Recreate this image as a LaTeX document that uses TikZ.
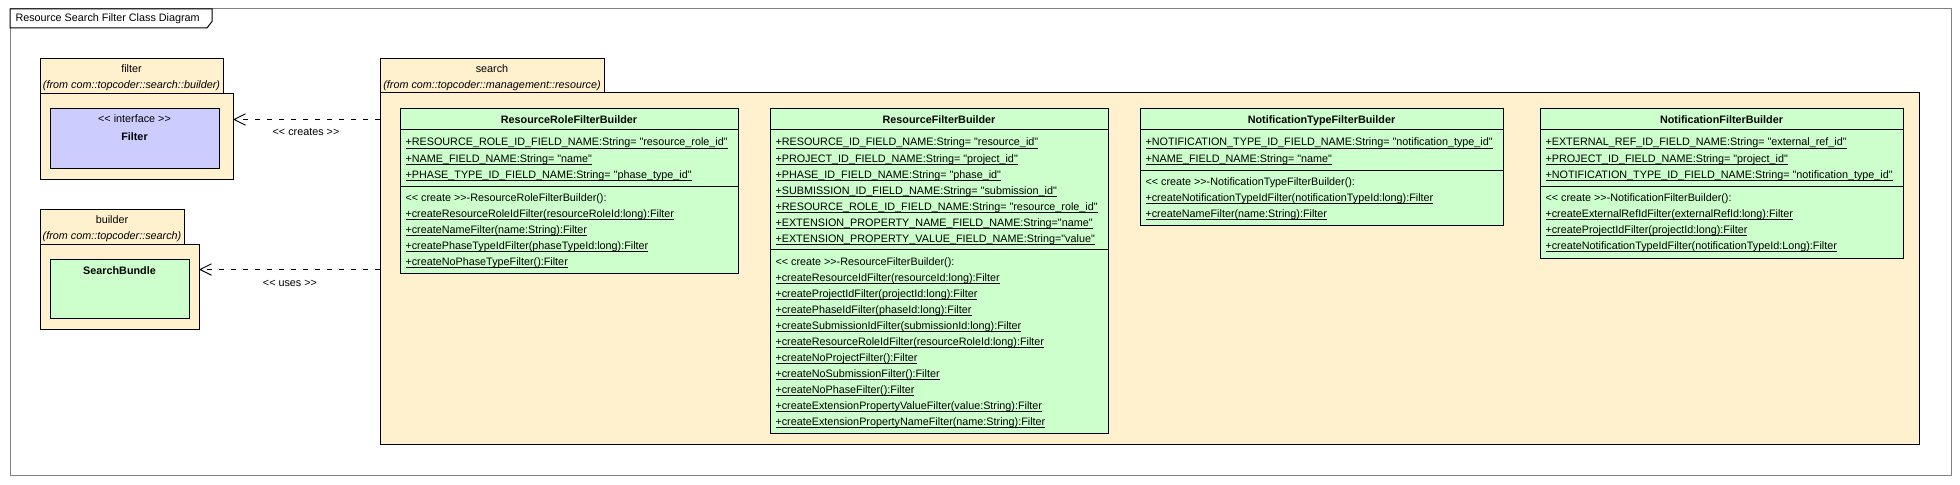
\documentclass[tikz,border=0pt]{standalone}
\usepackage{fontspec}
\setmainfont{Liberation Sans}[Ligatures=TeXOff]
\usetikzlibrary{arrows.meta}

\definecolor{pkgfill}{RGB}{255,241,206}
\definecolor{clsfill}{RGB}{204,255,204}
\definecolor{ifcfill}{RGB}{204,204,255}
\definecolor{framegray}{RGB}{128,128,128}

\newcommand{\umlsize}{\fontsize{8.1}{10}\selectfont}

\tikzset{every picture/.style={line width=0.75pt}}
\tikzset{
  pkgbody/.style={draw, fill=pkgfill, anchor=north west, inner sep=0pt, outer sep=0pt},
  classbox/.style={draw, fill=clsfill, anchor=north west, inner sep=0pt, outer sep=0pt},
  clsname/.style={anchor=base, inner sep=0pt, font=\umlsize\bfseries},
  member/.style={anchor=base west, inner sep=0pt, font=\umlsize},
  plain/.style={anchor=base, inner sep=0pt, font=\umlsize},
  pkgfrom/.style={anchor=base, inner sep=0pt, font=\umlsize\itshape},
  dependency/.style={dash pattern=on 3.75pt off 5.25pt, -{Straight Barb[length=8.5pt,width=8.5pt]}}
}

\begin{document}
\begin{tikzpicture}[x=0.75pt,y=0.75pt,yscale=-1,xscale=1]
	\useasboundingbox (0,0) rectangle (1960,485);

	%Shape: Frame
	\draw [framegray] (10,9) rectangle (1951,475) ;
	\draw [fill=white] (10,9) -- (212,9) -- (212,21.5) -- (207,28) -- (10,28) -- cycle ;
	% Text Node
	\node [member] (title) at (15,22) {Resource Search Filter Class Diagram};

	%Shape: Package filter
	\draw [fill=pkgfill] (40,59) rectangle (223,94) ;
	\node [pkgbody, minimum width=193*0.75pt, minimum height=85*0.75pt] (filterBody) at (40,94) {};
	\node [plain] (filterName) at (131.5,73) {filter};
	\node [pkgfrom] (filterFrom) at (131.5,89) {(from com::topcoder::search::builder)};
	\node [classbox, fill=ifcfill, minimum width=169*0.75pt, minimum height=59*0.75pt] (filterCls) at (50,109) {};
	\node [plain] (filterStereo) at (134.5,122.5) {<{}< interface >{}>};
	\node [clsname] (filterClsName) at (134.5,141) {Filter};

	%Shape: Package builder
	\draw [fill=pkgfill] (40,209) rectangle (184,244) ;
	\node [pkgbody, minimum width=159*0.75pt, minimum height=85*0.75pt] (builderBody) at (40,244) {};
	\node [plain] (builderName) at (112,223) {builder};
	\node [pkgfrom] (builderFrom) at (112,239) {(from com::topcoder::search)};
	\node [classbox, minimum width=139*0.75pt, minimum height=59*0.75pt] (bundleCls) at (50,259) {};
	\node [clsname] (bundleClsName) at (119.5,274) {SearchBundle};

	%Shape: Package search
	\draw [fill=pkgfill] (380,59) rectangle (604,93) ;
	\node [pkgbody, minimum width=1539*0.75pt, minimum height=351*0.75pt] (searchBody) at (380,93) {};
	\node [plain] (searchName) at (492,73) {search};
	\node [pkgfrom] (searchFrom) at (492,89) {(from com::topcoder::management::resource)};

	%Straight Lines: dependencies
	\draw [dependency] (searchBody.west |- 0,119.5) -- (filterBody.east |- 0,119.5) ;
	\node [plain] (createsLbl) at (306,135.5) {<{}< creates >{}>};
	\draw [dependency] (searchBody.west |- 0,269.5) -- (builderBody.east |- 0,269.5) ;
	\node [plain] (usesLbl) at (290,286.5) {<{}< uses >{}>};

	%Shape: Class ResourceRoleFilterBuilder
	\node [classbox, minimum width=338*0.75pt, minimum height=164*0.75pt] (rrfb) at (400,109) {};
	\draw (rrfb.west |- 0,129) -- (rrfb.east |- 0,129) ;
	\draw (rrfb.west |- 0,186) -- (rrfb.east |- 0,186) ;
	\node [clsname] (rrfbName) at (569,123) {ResourceRoleFilterBuilder};
	\foreach \m [count=\i from 0] in {
	  {+RESOURCE\_ROLE\_ID\_FIELD\_NAME:String= "resource\_role\_id"},
	  {+NAME\_FIELD\_NAME:String= "name"},
	  {+PHASE\_TYPE\_ID\_FIELD\_NAME:String= "phase\_type\_id"}}
	  \node [member] (rrfbF\i) at (405,{146+16*\i}) {\underline{\smash{\m}}};
	\node [member] (rrfbCtor) at (405,201.5) {<{}< create >{}>-ResourceRoleFilterBuilder():};
	\foreach \m [count=\i from 1] in {
	  {+createResourceRoleIdFilter(resourceRoleId:long):Filter},
	  {+createNameFilter(name:String):Filter},
	  {+createPhaseTypeIdFilter(phaseTypeId:long):Filter},
	  {+createNoPhaseTypeFilter():Filter}}
	  \node [member] (rrfbM\i) at (405,{201.5+16*\i}) {\underline{\smash{\m}}};

	%Shape: Class ResourceFilterBuilder
	\node [classbox, minimum width=338*0.75pt, minimum height=324*0.75pt] (rfb) at (770,109) {};
	\draw (rfb.west |- 0,129) -- (rfb.east |- 0,129) ;
	\draw (rfb.west |- 0,249.5) -- (rfb.east |- 0,249.5) ;
	\node [clsname] (rfbName) at (939,123) {ResourceFilterBuilder};
	\foreach \m [count=\i from 0] in {
	  {+RESOURCE\_ID\_FIELD\_NAME:String= "resource\_id"},
	  {+PROJECT\_ID\_FIELD\_NAME:String= "project\_id"},
	  {+PHASE\_ID\_FIELD\_NAME:String= "phase\_id"},
	  {+SUBMISSION\_ID\_FIELD\_NAME:String= "submission\_id"},
	  {+RESOURCE\_ROLE\_ID\_FIELD\_NAME:String= "resource\_role\_id"},
	  {+EXTENSION\_PROPERTY\_NAME\_FIELD\_NAME:String="name"},
	  {+EXTENSION\_PROPERTY\_VALUE\_FIELD\_NAME:String="value"}}
	  \node [member] (rfbF\i) at (775,{146+16*\i}) {\underline{\smash{\m}}};
	\node [member] (rfbCtor) at (775,265.5) {<{}< create >{}>-ResourceFilterBuilder():};
	\foreach \m [count=\i from 1] in {
	  {+createResourceIdFilter(resourceId:long):Filter},
	  {+createProjectIdFilter(projectId:long):Filter},
	  {+createPhaseIdFilter(phaseId:long):Filter},
	  {+createSubmissionIdFilter(submissionId:long):Filter},
	  {+createResourceRoleIdFilter(resourceRoleId:long):Filter},
	  {+createNoProjectFilter():Filter},
	  {+createNoSubmissionFilter():Filter},
	  {+createNoPhaseFilter():Filter},
	  {+createExtensionPropertyValueFilter(value:String):Filter},
	  {+createExtensionPropertyNameFilter(name:String):Filter}}
	  \node [member] (rfbM\i) at (775,{265.5+16*\i}) {\underline{\smash{\m}}};

	%Shape: Class NotificationTypeFilterBuilder
	\node [classbox, minimum width=363*0.75pt, minimum height=116*0.75pt] (ntfb) at (1140,109) {};
	\draw (ntfb.west |- 0,129) -- (ntfb.east |- 0,129) ;
	\draw (ntfb.west |- 0,170) -- (ntfb.east |- 0,170) ;
	\node [clsname] (ntfbName) at (1321.5,123) {NotificationTypeFilterBuilder};
	\foreach \m [count=\i from 0] in {
	  {+NOTIFICATION\_TYPE\_ID\_FIELD\_NAME:String= "notification\_type\_id"},
	  {+NAME\_FIELD\_NAME:String= "name"}}
	  \node [member] (ntfbF\i) at (1145,{146+16*\i}) {\underline{\smash{\m}}};
	\node [member] (ntfbCtor) at (1145,185.5) {<{}< create >{}>-NotificationTypeFilterBuilder():};
	\foreach \m [count=\i from 1] in {
	  {+createNotificationTypeIdFilter(notificationTypeId:long):Filter},
	  {+createNameFilter(name:String):Filter}}
	  \node [member] (ntfbM\i) at (1145,{185.5+16*\i}) {\underline{\smash{\m}}};

	%Shape: Class NotificationFilterBuilder
	\node [classbox, minimum width=363*0.75pt, minimum height=149*0.75pt] (nfb) at (1540,109) {};
	\draw (nfb.west |- 0,129) -- (nfb.east |- 0,129) ;
	\draw (nfb.west |- 0,186) -- (nfb.east |- 0,186) ;
	\node [clsname] (nfbName) at (1721.5,123) {NotificationFilterBuilder};
	\foreach \m [count=\i from 0] in {
	  {+EXTERNAL\_REF\_ID\_FIELD\_NAME:String= "external\_ref\_id"},
	  {+PROJECT\_ID\_FIELD\_NAME:String= "project\_id"},
	  {+NOTIFICATION\_TYPE\_ID\_FIELD\_NAME:String= "notification\_type\_id"}}
	  \node [member] (nfbF\i) at (1545,{146+16*\i}) {\underline{\smash{\m}}};
	\node [member] (nfbCtor) at (1545,201.5) {<{}< create >{}>-NotificationFilterBuilder():};
	\foreach \m [count=\i from 1] in {
	  {+createExternalRefIdFilter(externalRefId:long):Filter},
	  {+createProjectIdFilter(projectId:long):Filter},
	  {+createNotificationTypeIdFilter(notificationTypeId:Long):Filter}}
	  \node [member] (nfbM\i) at (1545,{201.5+16*\i}) {\underline{\smash{\m}}};

\end{tikzpicture}
\end{document}
